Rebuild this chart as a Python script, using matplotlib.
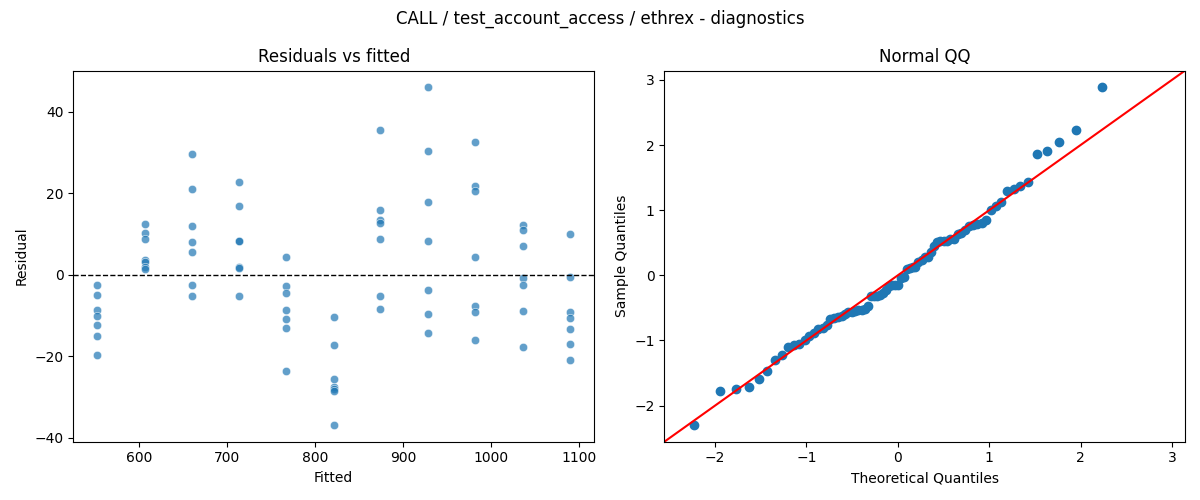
from statistics import NormalDist

import numpy as np
import pandas as pd
import matplotlib
matplotlib.use("Agg")
import matplotlib.pyplot as plt
import seaborn as sns


# fitted value of each group (11 levels, 7 observations each)
fitted_levels = [552, 606, 660, 713, 767, 821, 874, 928, 982, 1036, 1090]

# residuals, one list per fitted level
res_552 = [-2.4, -5.0, -8.5, -10.1, -12.2, -14.9, -19.6]
res_606 = [12.4, 10.3, 8.7, 3.6, 3.2, 2.0, 1.5]
res_660 = [29.6, 21.2, 11.9, 8.0, 5.6, -2.5, -5.2]
res_713 = [22.7, 16.8, 8.4, 8.2, 2.0, 1.6, -5.2]
res_767 = [4.3, -2.8, -4.5, -8.7, -10.9, -13.1, -23.6]
res_821 = [-10.3, -17.2, -25.6, -27.6, -28.0, -28.6, -36.8]
res_874 = [35.5, 15.9, 13.5, 12.8, 8.7, -5.2, -8.4]
res_928 = [46.0, 30.3, 17.8, 8.3, -3.8, -9.6, -14.3]
res_982 = [32.5, 21.8, 20.5, 4.3, -7.6, -9.2, -15.9]
res_1036 = [12.2, 10.9, 7.0, -0.7, -2.5, -8.8, -17.7]
res_1090 = [10.0, -0.6, -9.1, -10.6, -13.3, -17.0, -20.9]

residual_groups = [res_552, res_606, res_660, res_713, res_767, res_821,
                   res_874, res_928, res_982, res_1036, res_1090]

title = "CALL / test_account_access / ethrex - diagnostics"

fitted = []
resid = []
for f, grp in zip(fitted_levels, residual_groups):
    fitted += [f] * len(grp)
    resid += grp
df = pd.DataFrame({"fitted": fitted, "resid": resid})

fig, axes = plt.subplots(1, 2, figsize=(12, 5), dpi=100)

# residuals vs fitted
ax = axes[0]
sns.scatterplot(data=df, x="fitted", y="resid", alpha=0.7, ax=ax)
ax.axhline(0, color="black", linestyle="--", linewidth=1)
ax.set_title("Residuals vs fitted")
ax.set_xlabel("Fitted")
ax.set_ylabel("Residual")

# normal QQ of standardized residuals
ax = axes[1]
r = np.sort(np.array(resid))
n = len(r)
sample_q = (r - r.mean()) / r.std()
nd = NormalDist()
theo_q = np.array([nd.inv_cdf(i / (n + 1)) for i in range(1, n + 1)])
ax.plot(theo_q, sample_q, marker="o", linestyle="none", color="C0")
xl, yl = ax.get_xlim(), ax.get_ylim()
lo, hi = min(xl[0], yl[0]), max(xl[1], yl[1])
ax.plot([lo, hi], [lo, hi], color="red")
ax.set_xlim(lo, hi)
ax.set_ylim(lo, hi)
ax.set_title("Normal QQ")
ax.set_xlabel("Theoretical Quantiles")
ax.set_ylabel("Sample Quantiles")

fig.suptitle(title)
fig.tight_layout()
fig.savefig("out.png")
